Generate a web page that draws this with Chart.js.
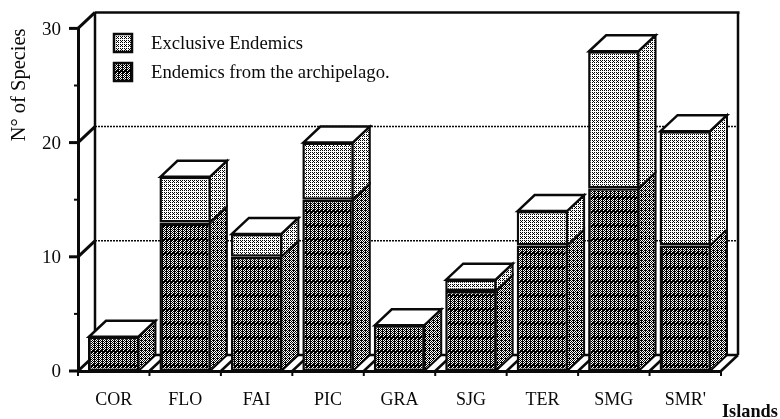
<!DOCTYPE html>
<html>
<head>
<meta charset="utf-8">
<style>html,body{margin:0;padding:0;background:#fff}canvas{display:block}</style>
<script src="https://cdn.jsdelivr.net/npm/chart.js@4"></script>
</head>
<body>
<canvas id="c" width="780" height="419"></canvas>
<script>
const islands = ['COR','FLO','FAI','PIC','GRA','SJG','TER','SMG',"SMR'"];
const archipelago = [3,13,10,15,4,7,11,16,11];
const exclusive = [0,4,2,5,0,1,3,12,10];
const yTicks = [0,10,20,30];
const DX = 17, DY = -16;
const SERIF = '"Liberation Serif","Times New Roman",serif';
const INK = '#0a0a0a';

function tile(w, h, blackAt) {
  const c = document.createElement('canvas');
  c.width = w; c.height = h;
  const g = c.getContext('2d');
  g.fillStyle = '#fff'; g.fillRect(0,0,w,h);
  g.fillStyle = '#000';
  for (let y=0;y<h;y++) for (let x=0;x<w;x++) if (blackAt(x,y)) g.fillRect(x,y,1,1);
  return document.getElementById('c').getContext('2d').createPattern(c,'repeat');
}
const darkFront = tile(4,14,(x,y)=> (x+y)%2===0 || (y%2===1 && x%4===2) || (y%14<3 && (x+y)%4===1));
const darkSide  = tile(4,14,(x,y)=> (x+y)%2===0 || (y%4===0 && x%4===1));
const lightFront = tile(4,4,(x,y)=> (x%2===0 && y%2===0) || (x===1 && y===1));
const lightSide  = tile(4,4,(x,y)=> (x%2===0 && y%2===0) || (x===3 && y===3));

function poly(g, pts, fill, lw) {
  g.beginPath();
  pts.forEach((p,i)=> i? g.lineTo(p[0],p[1]) : g.moveTo(p[0],p[1]));
  g.closePath();
  if (fill) { g.fillStyle = fill; g.fill(); }
  g.lineWidth = lw; g.strokeStyle = INK; g.lineJoin = 'miter'; g.stroke();
}
function line(g, x1,y1,x2,y2,lw,dash) {
  g.save();
  g.beginPath(); g.moveTo(x1,y1); g.lineTo(x2,y2);
  g.lineWidth = lw; g.strokeStyle = INK; g.setLineDash(dash||[]); g.stroke();
  g.restore();
}

const box3d = {
  id:'box3d',
  beforeDatasetsDraw(chart) {
    const g = chart.ctx, {x,y} = chart.scales;
    const L = x.left, R = x.right, B = y.getPixelForValue(0), T = y.getPixelForValue(30);
    g.save();
    yTicks.forEach(v => {
      const py = y.getPixelForValue(v);
      line(g, L, py, L+DX, py+DY, 3);
      if (v>0 && v<30) line(g, L+DX, py+DY, R+DX, py+DY, 1.5, [2,1]);
    });
    line(g, L+DX, T+DY, R+DX+1.5, T+DY, 2.5);
    line(g, L+DX, T+DY, L+DX, B+DY, 2.5);
    line(g, R+DX, T+DY, R+DX, B+DY, 2.5);
    line(g, L+DX, B+DY, R+DX, B+DY, 2.5);
    const band = (R-L)/islands.length;
    islands.forEach((_,i)=> line(g, L+band*(i+1), B, L+band*(i+1)+DX, B+DY, 2.5));
    g.restore();
  },
  afterDatasetsDraw(chart) {
    const g = chart.ctx;
    const m0 = chart.getDatasetMeta(0).data, m1 = chart.getDatasetMeta(1).data;
    g.save();
    islands.forEach((_,i)=>{
      const a = m0[i], b = m1[i];
      const hasTop = exclusive[i] > 0;
      const l = a.x - a.width/2 + 1, r = a.x + a.width/2 - 1;
      const y0 = a.base, y1 = a.y, y2 = hasTop ? b.y : a.y;
      poly(g, [[r,y0],[r+DX,y0+DY],[r+DX,y1+DY],[r,y1]], darkSide, 2);
      if (hasTop) poly(g, [[r,y1],[r+DX,y1+DY],[r+DX,y2+DY],[r,y2]], lightSide, 2);
      poly(g, [[l,y2],[l+DX,y2+DY],[r+DX,y2+DY],[r,y2]], '#fff', 2.5);
    });
    g.restore();
  },
  afterDraw(chart) {
    const g = chart.ctx, {x,y} = chart.scales;
    const L = x.left, R = x.right, B = y.getPixelForValue(0);
    g.save();
    [0,5,10,15,20,25,30].forEach(v=>{
      const py = y.getPixelForValue(v);
      line(g, v%10===0 ? L-9 : L-4, py, L, py, v%10===0 ? 3 : 2);
    });
    const band = (R-L)/islands.length;
    for (let i=0;i<=islands.length;i++) line(g, L+band*i, B, L+band*i, B+5, 2);
    const sets = chart.data.datasets;
    [[sets[1],lightFront,33,49],[sets[0],darkFront,62,78]].forEach(([ds,pat,sy,by])=>{
      g.fillStyle = pat; g.fillRect(114,sy+1,18,18);
      g.lineWidth = 2.5; g.strokeStyle = INK; g.strokeRect(114,sy+1,18,18);
      g.fillStyle = INK; g.font = '18.7px '+SERIF; g.textAlign='left'; g.textBaseline='alphabetic';
      g.fillText(ds.label,151,by);
    });
    g.font = 'bold 18.3px '+SERIF; g.fillStyle = INK; g.textAlign='left';
    g.fillText('Islands',722,417);
    g.restore();
  }
};

new Chart(document.getElementById('c'),{
  type:'bar',
  data:{labels:islands,datasets:[
    {label:'Endemics from the archipelago.',data:archipelago,backgroundColor:darkFront,borderColor:INK,borderWidth:2.5,borderSkipped:false},
    {label:'Exclusive Endemics',data:exclusive,backgroundColor:lightFront,borderColor:INK,borderWidth:2.5,borderSkipped:false}
  ]},
  options:{
    responsive:false,animation:false,devicePixelRatio:1,
    layout:{padding:{top:27,right:59,left:0,bottom:0}},
    datasets:{bar:{categoryPercentage:1,barPercentage:0.72}},
    plugins:{legend:{display:false},tooltip:{enabled:false}},
    scales:{
      x:{stacked:true,
        afterFit(s){s.height=48;},
        grid:{display:false,drawTicks:false},
        border:{display:true,color:INK,width:3},
        ticks:{color:INK,padding:18,autoSkip:false,maxRotation:0,minRotation:0,font:{family:SERIF,size:18}}},
      y:{stacked:true,min:0,max:30,
        afterFit(s){s.width=78;},
        grid:{display:false,drawTicks:false},
        border:{display:true,color:INK,width:3},
        title:{display:true,align:'end',text:'N\u00B0 of Species',color:INK,padding:{top:7,bottom:0},font:{family:SERIF,size:20.5}},
        ticks:{stepSize:5,color:INK,padding:17,labelOffset:1.5,autoSkip:false,font:{family:SERIF,size:19},
          callback:v=>yTicks.includes(v)?String(v):''}}
    }
  },
  plugins:[box3d]
});
</script>
</body>
</html>
